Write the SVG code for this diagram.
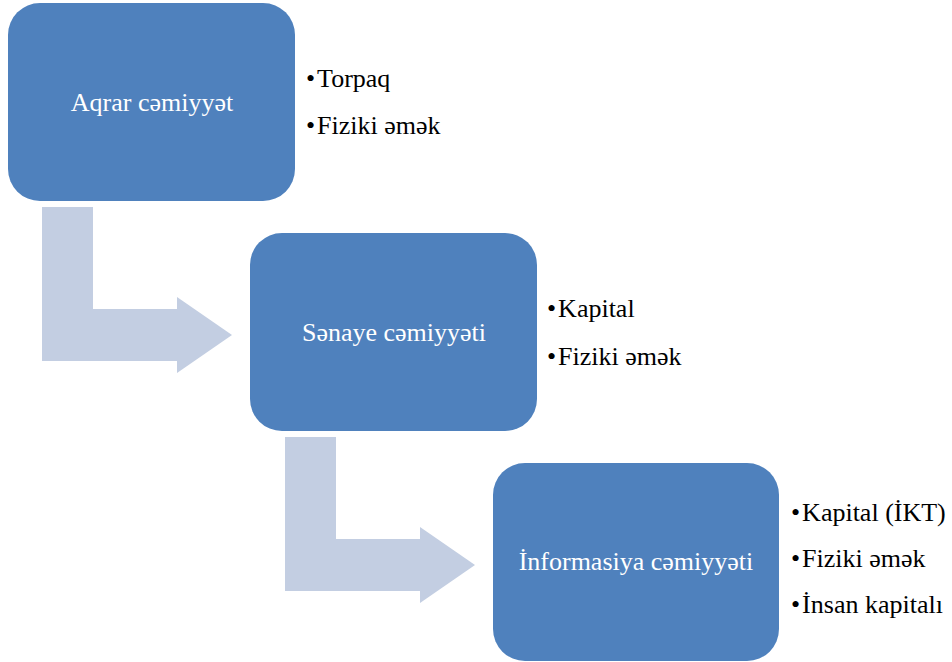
<svg xmlns="http://www.w3.org/2000/svg" width="952" height="662" viewBox="0 0 952 662">
<style>
.box{fill:#4F81BD}
.arr{fill:#C3CEE2}
.lbl{font-family:"Liberation Serif","Times New Roman",serif;font-size:26px;fill:#FFFFFF;text-anchor:middle}
.bul{font-family:"Liberation Serif","Times New Roman",serif;font-size:26px;fill:#000000}
</style>
<rect width="952" height="662" fill="#FFFFFF"/>
<g id="connectors">
<path class="arr" d="M42,207 H93 V309 H177 V297 L232,335 L177,373 V361 H42 Z"/>
<path class="arr" d="M285,437 H336 V539 H420 V527 L475,565 L420,603 V591 H285 Z"/>
</g>
<g id="node-aqrar">
<rect class="box" x="8" y="3" width="287" height="198" rx="32"/>
<text class="lbl" x="152" y="111">Aqrar cəmiyyət</text>
<text class="bul" x="306" y="87">•<tspan dx="2">Torpaq</tspan></text>
<text class="bul" x="306" y="134">•<tspan dx="2">Fiziki əmək</tspan></text>
</g>
<g id="node-senaye">
<rect class="box" x="250" y="233" width="287" height="198" rx="32"/>
<text class="lbl" x="394" y="341">Sənaye cəmiyyəti</text>
<text class="bul" x="547" y="317">•<tspan dx="2">Kapital</tspan></text>
<text class="bul" x="547" y="365">•<tspan dx="2">Fiziki əmək</tspan></text>
</g>
<g id="node-informasiya">
<rect class="box" x="493" y="463" width="286" height="198" rx="32"/>
<text class="lbl" x="636" y="570">İnformasiya cəmiyyəti</text>
<text class="bul" x="791" y="521">•<tspan dx="2">Kapital (İKT)</tspan></text>
<text class="bul" x="791" y="567">•<tspan dx="2">Fiziki əmək</tspan></text>
<text class="bul" x="791" y="613">•<tspan dx="2">İnsan kapitalı</tspan></text>
</g>
</svg>
